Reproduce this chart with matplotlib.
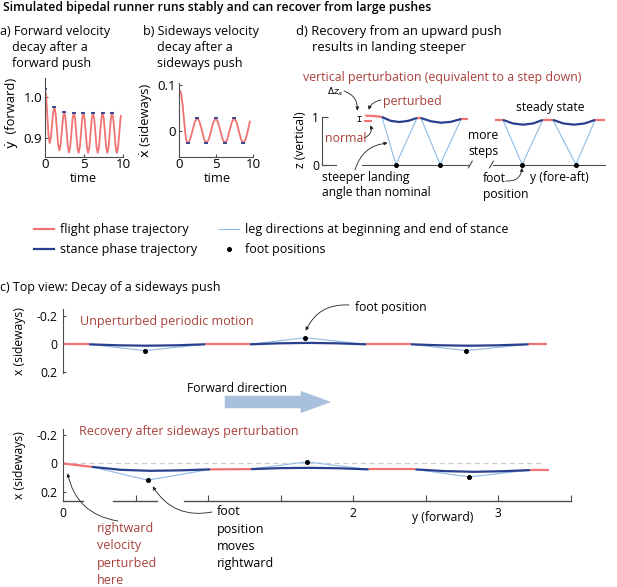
import matplotlib
matplotlib.use('Agg')
import matplotlib.pyplot as plt
from matplotlib.lines import Line2D
from matplotlib.patches import FancyArrowPatch

W, H = 617, 587

RED = '#f07272'
BLUE = '#2b3f8f'
LEG = '#8fbbe4'
TXT_RED = '#a8413a'
GREY = '#4d4d4d'

plt.rcParams['font.family'] = ['Open Sans', 'DejaVu Sans']
plt.rcParams['font.size'] = 8.7

# ---------------- data ----------------
# a) forward velocity after a forward push
a_time = [0.0, 0.15, 0.3, 0.45, 0.6, 0.75, 0.9, 1.05, 1.2, 1.36, 1.52, 1.68, 1.85,
          2.0, 2.16, 2.31, 2.47, 2.62, 2.78, 2.93, 3.08, 3.23, 3.39, 3.54, 3.7,
          3.85, 4.0, 4.15, 4.31, 4.46, 4.62, 4.77, 4.92, 5.07, 5.23, 5.38, 5.53,
          5.69, 5.84, 6.0, 6.15, 6.3, 6.46, 6.61, 6.76, 6.92, 7.07, 7.23, 7.38,
          7.53, 7.69, 7.84, 7.99, 8.15, 8.3, 8.45, 8.6, 8.75, 8.91, 9.06, 9.22,
          9.37, 9.53, 9.68, 9.75]
a_vel = [1.020, 1.001, 0.954, 0.907, 0.888, 0.901, 0.932, 0.962, 0.975, 0.960, 0.923, 0.885, 0.870,
         0.884, 0.917, 0.949, 0.963, 0.949, 0.914, 0.879, 0.865, 0.879, 0.913, 0.948, 0.962,
         0.948, 0.913, 0.878, 0.864, 0.878, 0.913, 0.948, 0.962, 0.948, 0.913, 0.878, 0.864,
         0.878, 0.913, 0.948, 0.962, 0.948, 0.913, 0.878, 0.864, 0.878, 0.913, 0.948, 0.962,
         0.948, 0.913, 0.878, 0.864, 0.878, 0.913, 0.948, 0.962, 0.948, 0.913, 0.878, 0.864,
         0.878, 0.913, 0.948, 0.956]
a_stance_t = [0.0, 1.2, 2.47, 3.7, 4.92, 6.15, 7.38, 8.6]
a_stance_v = [1.020, 0.975, 0.963, 0.962, 0.962, 0.962, 0.962, 0.962]

# b) sideways velocity after a sideways push
b_time = [0.0, 0.15, 0.3, 0.5, 0.7, 0.85, 1.0, 1.17, 1.5, 1.82, 2.15, 2.47,
          2.78, 3.09, 3.4, 3.7, 4.02, 4.33, 4.65, 4.96, 5.27, 5.58, 5.9, 6.2,
          6.52, 6.83, 7.15, 7.46, 7.77, 8.08, 8.39, 8.7, 9.0, 9.3, 9.6]
b_vel = [0.088, 0.087, 0.080, 0.055, 0.020, -0.005, -0.022, -0.027, -0.019, 0.000, 0.020, 0.028,
         0.020, 0.001, -0.019, -0.027, -0.019, 0.000, 0.019, 0.027, 0.019, 0.000, -0.019, -0.027,
         -0.019, 0.000, 0.019, 0.027, 0.019, 0.000, -0.019, -0.027, -0.019, 0.000, 0.022]
b_stance_t = [1.17, 2.47, 3.7, 4.96, 6.2, 7.46, 8.7]
b_stance_v = [-0.027, 0.028, -0.027, 0.027, -0.027, 0.027, -0.027]

# d) side view, recovery from upward push
d_flight_x = [[0.90, 1.08, 1.25], [1.98, 2.06], [2.90, 3.04], [3.60, 3.77], [4.60, 4.81], [5.69, 5.90]]
d_flight_z = [[1.02, 1.01, 0.99], [0.97, 0.97], [0.95, 0.95], [0.93, 0.93], [0.93, 0.93], [0.93, 0.93]]
d_normal_x = [0.875, 1.04]
d_normal_z = [0.906, 0.906]
d_stance_x = [[1.25, 1.43, 1.61, 1.80, 1.98], [2.06, 2.27, 2.48, 2.69, 2.90],
              [3.77, 3.98, 4.19, 4.40, 4.60], [4.81, 5.03, 5.25, 5.47, 5.69]]
d_stance_z = [[0.99, 0.91, 0.885, 0.91, 0.97], [0.97, 0.90, 0.87, 0.89, 0.95],
              [0.93, 0.855, 0.83, 0.855, 0.93], [0.93, 0.855, 0.83, 0.855, 0.93]]
d_feet = [1.54, 2.46, 4.17, 5.29]
d_ground = [[0.0, 0.29], [0.83, 3.06], [3.56, 5.90]]
d_breaks = [3.09, 3.53]
d_dz_x = 0.77

# c) top view, unperturbed
ct_flight_x = [[0.0, 0.18], [0.98, 1.29], [2.09, 2.40], [3.21, 3.34]]
ct_flight_s = [[0.0, 0.0], [0.0, 0.0], [0.0, 0.0], [0.0, 0.0]]
ct_stance_x = [[0.18, 0.38, 0.58, 0.78, 0.98], [1.29, 1.49, 1.69, 1.89, 2.09], [2.40, 2.60, 2.80, 3.00, 3.21]]
ct_stance_s = [[0.0, 0.007, 0.010, 0.007, 0.0], [0.0, -0.007, -0.010, -0.007, 0.0], [0.0, 0.007, 0.010, 0.007, 0.0]]
ct_feet_x = [0.565, 1.67, 2.78]
ct_feet_s = [0.045, -0.047, 0.045]

# c) top view, after sideways perturbation
cb_flight_x = [[0.0, 0.198], [1.014, 1.297], [2.108, 2.43], [3.22, 3.35]]
cb_flight_s = [[0.0, 0.024], [0.042, 0.040], [0.042, 0.042], [0.047, 0.047]]
cb_stance_x = [[0.198, 0.40, 0.60, 0.80, 1.014], [1.297, 1.50, 1.70, 1.90, 2.108], [2.43, 2.63, 2.83, 3.03, 3.22]]
cb_stance_s = [[0.024, 0.045, 0.052, 0.049, 0.042], [0.040, 0.033, 0.031, 0.034, 0.042], [0.042, 0.054, 0.059, 0.055, 0.047]]
cb_feet_x = [0.584, 1.68, 2.80]
cb_feet_s = [0.118, -0.011, 0.095]
cb_axis_segments = [[0.0, 0.14], [0.345, 0.65], [0.834, 3.5]]
cb_xticks = [0, 0.5, 1, 1.5, 2, 2.5, 3, 3.5]
cb_xticklabels = ['0', '', '', '', '2', '', '3', '']


def fp(x, y):
    return (x / W, 1 - y / H)


def add_axes_px(left, top, right, bottom):
    return fig.add_axes([left / W, 1 - bottom / H, (right - left) / W, (bottom - top) / H])


def style(ax, bottom=True, labelsize=8.7):
    for s in ['top', 'right']:
        ax.spines[s].set_visible(False)
    ax.spines['left'].set_color(GREY)
    ax.spines['left'].set_linewidth(0.8)
    ax.spines['bottom'].set_color(GREY)
    ax.spines['bottom'].set_linewidth(0.8)
    if not bottom:
        ax.spines['bottom'].set_visible(False)
    ax.tick_params(direction='in', length=2.5, width=0.8, color=GREY, pad=2, labelsize=labelsize)
    ax.patch.set_alpha(0)


def txt(x, y, s, color='black', **kw):
    fig.text(x / W, 1 - y / H, s, color=color, va='center', **kw)


def arrow(ax, xy, xytext, rad=0.3, xycoords='figure fraction'):
    ax.annotate('', xy=xy, xycoords=xycoords, xytext=xytext, textcoords='figure fraction',
                arrowprops=dict(arrowstyle='-|>', color='#222222', lw=0.6, mutation_scale=5,
                                shrinkA=0, shrinkB=1, connectionstyle='arc3,rad=%s' % rad),
                annotation_clip=False)


fig = plt.figure(figsize=(W / 100, H / 100), dpi=100)

# title
txt(3, 8, 'Simulated bipedal runner runs stably and can recover from large pushes',
    fontweight='semibold', fontsize=8.8)

# ---------------- panel a ----------------
ax_a = add_axes_px(45, 78, 123, 157)
style(ax_a, labelsize=9.6)
ax_a.plot(a_time, a_vel, color=RED, lw=1.3, solid_capstyle='butt')
ax_a.plot(a_stance_t, a_stance_v, ls='none', marker='_', ms=2.8, mew=1.3, color=BLUE)
ax_a.set_xlim(0, 10)
ax_a.set_ylim(0.854, 1.046)
ax_a.set_xticks([0, 5, 10])
ax_a.set_xticklabels(['0', '5', '10'])
ax_a.set_yticks([0.9, 1.0])
ax_a.set_yticklabels(['0.9', '1.0'])
ax_a.tick_params(axis='x', pad=1)
txt(0, 32, 'a) Forward velocity', fontsize=9)
txt(12, 48, 'decay after a', fontsize=9)
txt(12, 64, 'forward push', fontsize=9)
txt(12, 113, '\u1e8f  (forward)', rotation=90, ha='center', fontsize=9.3)
txt(83, 178, 'time', ha='center', fontsize=9.3)

# ---------------- panel b ----------------
ax_b = add_axes_px(179, 83, 253, 157)
style(ax_b, labelsize=9.6)
ax_b.plot(b_time, b_vel, color=RED, lw=1.3, solid_capstyle='butt')
ax_b.plot(b_stance_t, b_stance_v, ls='none', marker='_', ms=2.8, mew=1.3, color=BLUE)
ax_b.set_xlim(0, 10)
ax_b.set_ylim(-0.057, 0.104)
ax_b.set_xticks([0, 5, 10])
ax_b.set_xticklabels(['0', '5', '10'])
ax_b.set_yticks([0, 0.1])
ax_b.set_yticklabels(['0', '0.1'])
ax_b.tick_params(axis='x', pad=1)
txt(143, 32, 'b) Sideways velocity', fontsize=9)
txt(157, 48, 'decay after a', fontsize=9)
txt(157, 64, 'sideways push', fontsize=9)
txt(146, 120, '\u1e8b (sideways)', rotation=90, ha='center', fontsize=9.3)
txt(217, 178, 'time', ha='center', fontsize=9.3)

# ---------------- panel d ----------------
ax_d = add_axes_px(322, 100, 617, 172)
style(ax_d, bottom=False)
ax_d.set_xlim(0, 295 / 48)
ax_d.set_ylim(-0.156, 1.344)
ax_d.spines['left'].set_bounds(0, 1)
ax_d.set_xticks([])
ax_d.set_yticks([0, 1])
ax_d.set_yticklabels(['0', '1'])
ax_d.tick_params(axis='y', length=4)
for seg in d_ground:
    ax_d.plot(seg, [0, 0], color=GREY, lw=0.8)
for bx in d_breaks:
    ax_d.plot([bx - 0.04, bx + 0.04], [-0.07, 0.07], color=GREY, lw=0.8)
for sx, sz, foot in zip(d_stance_x, d_stance_z, d_feet):
    ax_d.plot([sx[0], foot, sx[-1]], [sz[0], 0, sz[-1]], color=LEG, lw=0.8)
for fx_, fz_ in zip(d_flight_x, d_flight_z):
    ax_d.plot(fx_, fz_, color=RED, lw=1.6, solid_capstyle='butt')
ax_d.plot(d_normal_x, d_normal_z, color=RED, lw=1.6, solid_capstyle='butt')
for sx, sz in zip(d_stance_x, d_stance_z):
    ax_d.plot(sx, sz, color=BLUE, lw=1.6, solid_capstyle='butt')
ax_d.plot(d_feet, [0] * len(d_feet), 'o', color='black', ms=2.6)
ax_d.errorbar([d_dz_x], [(d_flight_z[0][0] + d_normal_z[0]) / 2],
              yerr=[(d_flight_z[0][0] - d_normal_z[0]) / 2], color='black', lw=0.6, capsize=1.5, capthick=0.6)

txt(296, 32, 'd) Recovery from an upward push', fontsize=9.4)
txt(312, 48, 'results in landing steeper', fontsize=9.4)
txt(303, 78, 'vertical perturbation (equivalent to a step down)', color=TXT_RED, fontsize=8.9)
txt(327, 92, r'$\Delta z_a$', fontsize=6.5)
arrow(ax_d, fp(357, 112), fp(344, 91), rad=-0.4)
txt(383, 101, 'perturbed', color=TXT_RED, fontsize=8.9)
arrow(ax_d, fp(368, 111), fp(381, 100), rad=0.3)
txt(325, 139, 'normal', color=TXT_RED, fontsize=8.9)
arrow(ax_d, fp(370, 124), fp(364, 138), rad=0.5)
txt(516, 107, 'steady state')
txt(468, 135, 'more')
txt(468, 151, 'steps')
txt(322, 177, 'steeper landing')
txt(322, 193, 'angle than nominal')
arrow(ax_d, fp(389, 143), fp(355, 170), rad=-0.35)
txt(483, 179, 'foot')
txt(483, 195, 'position')
arrow(ax_d, (d_feet[2], -0.04), fp(506, 181), rad=0.5, xycoords='data')
txt(530, 177, 'y (fore-aft)')
txt(301, 140, 'z (vertical)', rotation=90, ha='center')

# ---------------- legend ----------------
handles = [Line2D([], [], color=RED, lw=1.6),
           Line2D([], [], color=BLUE, lw=1.6),
           Line2D([], [], color=LEG, lw=0.8),
           Line2D([], [], ls='none', marker='o', ms=2.6, color='black')]
labels = ['flight phase trajectory', 'stance phase trajectory',
          'leg directions at beginning and end of stance', 'foot positions']
fig.legend(handles, labels, ncol=2, frameon=False, loc='upper left', fontsize=9.0,
           bbox_to_anchor=fp(34, 223), handlelength=1.6, handletextpad=0.5,
           columnspacing=1.7, labelspacing=0.6, borderaxespad=0, borderpad=0)

# ---------------- panel c ----------------
txt(0, 287, 'c) Top view: Decay of a sideways push', fontsize=9)

ax_ct = add_axes_px(63, 309, 570.5, 373)
style(ax_ct, bottom=False)
ax_ct.set_xlim(0, 3.5)
ax_ct.set_ylim(0.204, -0.251)
ax_ct.set_xticks([])
ax_ct.set_yticks([-0.2, 0, 0.2])
ax_ct.set_yticklabels(['-0.2', '0', '0.2'])
ax_ct.tick_params(axis='y', pad=4)
for sx, ss, fxx, fss in zip(ct_stance_x, ct_stance_s, ct_feet_x, ct_feet_s):
    ax_ct.plot([sx[0], fxx, sx[-1]], [ss[0], fss, ss[-1]], color=LEG, lw=0.8)
for x_, s_ in zip(ct_flight_x, ct_flight_s):
    ax_ct.plot(x_, s_, color=RED, lw=1.6, solid_capstyle='butt')
for x_, s_ in zip(ct_stance_x, ct_stance_s):
    ax_ct.plot(x_, s_, color=BLUE, lw=1.6, solid_capstyle='butt')
ax_ct.plot(ct_feet_x, ct_feet_s, 'o', color='black', ms=2.6)
txt(80, 322, 'Unperturbed periodic motion', color=TXT_RED, fontsize=9)
txt(355, 307, 'foot position')
arrow(ax_ct, (ct_feet_x[1], ct_feet_s[1] - 0.04), fp(349, 305), rad=0.35, xycoords='data')
txt(20, 341, 'x (sideways)', rotation=90, ha='center')

# forward direction arrow
txt(187, 388, 'Forward direction')
fig.add_artist(FancyArrowPatch(fp(222, 402), fp(334, 402), transform=fig.transFigure,
                               arrowstyle='simple,tail_width=9,head_width=16,head_length=22',
                               mutation_scale=1, color='#a9c0dc', lw=0))

ax_cb = add_axes_px(63, 429, 570.5, 501)
style(ax_cb, bottom=False)
ax_cb.set_xlim(0, 3.5)
ax_cb.set_ylim(0.265, -0.243)
ax_cb.set_yticks([-0.2, 0, 0.2])
ax_cb.set_yticklabels(['-0.2', '0', '0.2'])
ax_cb.set_xticks(cb_xticks)
ax_cb.set_xticklabels(cb_xticklabels)
ax_cb.tick_params(axis='y', pad=4)
ax_cb.tick_params(axis='x', pad=4, length=4)
ax_cb.get_xticklines()[0].set_visible(False)
for seg in cb_axis_segments:
    ax_cb.plot(seg, [0.265, 0.265], color=GREY, lw=1.0, clip_on=False)
ax_cb.plot([0, 3.31], [0, 0], color='#cccccc', lw=0.9, dashes=(4, 3))
for sx, ss, fxx, fss in zip(cb_stance_x, cb_stance_s, cb_feet_x, cb_feet_s):
    ax_cb.plot([sx[0], fxx, sx[-1]], [ss[0], fss, ss[-1]], color=LEG, lw=0.8)
for x_, s_ in zip(cb_flight_x, cb_flight_s):
    ax_cb.plot(x_, s_, color=RED, lw=1.6, solid_capstyle='butt')
for x_, s_ in zip(cb_stance_x, cb_stance_s):
    ax_cb.plot(x_, s_, color=BLUE, lw=1.6, solid_capstyle='butt')
ax_cb.plot(cb_feet_x, cb_feet_s, 'o', color='black', ms=2.6)
txt(79, 431, 'Recovery after sideways perturbation', color=TXT_RED, fontsize=9)
txt(20, 465, 'x (sideways)', rotation=90, ha='center')
txt(412, 518, 'y (forward)')
fig.text(97 / W, 1 - 522 / H, 'rightward\nvelocity\nperturbed\nhere', color=TXT_RED,
         va='top', linespacing=1.45, fontsize=9)
arrow(ax_cb, (cb_flight_x[0][0] + 0.03, cb_flight_s[0][0] + 0.06), fp(118, 521), rad=-0.35, xycoords='data')
fig.text(217 / W, 1 - 505 / H, 'foot\nposition\nmoves\nrightward', va='top', linespacing=1.45, fontsize=9)
arrow(ax_cb, (cb_feet_x[0] + 0.03, cb_feet_s[0] + 0.035), fp(212, 512), rad=-0.35, xycoords='data')

fig.savefig('out.png', dpi=100)
